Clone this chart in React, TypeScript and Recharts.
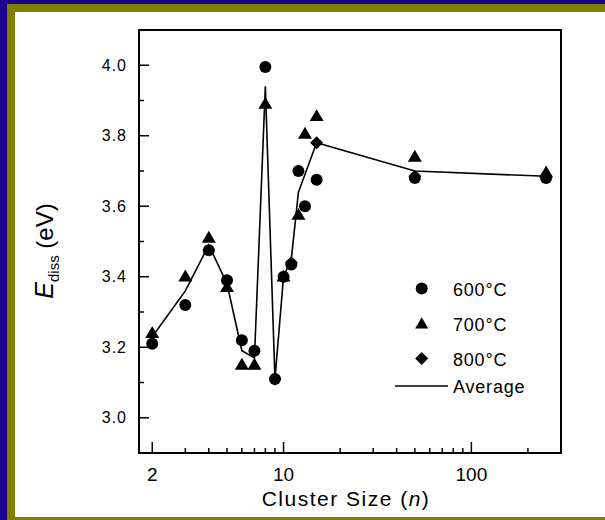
import React from "react";
import {
  ComposedChart,
  Line,
  Scatter,
  XAxis,
  YAxis,
  ReferenceArea,
} from "recharts";

// cluster size n and dissociation energy (eV) for each anneal temperature
const sizes600 = [2, 3, 4, 5, 6, 7, 8, 9, 10, 11, 12, 13, 15, 50, 250];
const energy600 = [3.21, 3.32, 3.475, 3.39, 3.22, 3.19, 3.995, 3.11, 3.4, 3.435, 3.7, 3.6, 3.675, 3.68, 3.68];

const sizes700 = [2, 3, 4, 5, 6, 7, 8, 10, 12, 13, 15, 50, 250];
const energy700 = [3.24, 3.4, 3.51, 3.37, 3.15, 3.15, 3.89, 3.4, 3.575, 3.805, 3.855, 3.74, 3.695];

const sizes800 = [9, 11, 15, 50, 250];
const energy800 = [3.11, 3.44, 3.78, 3.685, 3.685];

const sizesAvg = [2, 3, 4, 5, 6, 7, 8, 9, 10, 11, 12, 13, 15, 50, 250];
const energyAvg = [3.23, 3.36, 3.49, 3.38, 3.19, 3.17, 3.94, 3.11, 3.4, 3.45, 3.64, 3.69, 3.78, 3.7, 3.685];

const xTicks = [2, 3, 4, 5, 6, 7, 8, 9, 10, 20, 30, 40, 50, 60, 70, 80, 90, 100, 200];
const xLabels = [2, 10, 100];
const yTicks = [3.0, 3.1, 3.2, 3.3, 3.4, 3.5, 3.6, 3.7, 3.8, 3.9, 4.0];

const legendItems = ["600°C", "700°C", "800°C", "Average"];

const FONT = "'Liberation Sans', Arial, sans-serif";

const toPoints = (sizes: number[], values: number[]) =>
  sizes.map((n, i) => ({ n, e: values[i] }));

const pts600 = toPoints(sizes600, energy600);
const pts700 = toPoints(sizes700, energy700);
const pts800 = toPoints(sizes800, energy800);
const ptsAvg = toPoints(sizesAvg, energyAvg);

const Circle = ({ cx, cy, r = 6 }: any) => <circle cx={cx} cy={cy} r={r} fill="#000" />;

const Triangle = ({ cx, cy, s = 14 }: any) => {
  const h = s * 0.85;
  return (
    <polygon
      points={`${cx},${cy - h * 0.6} ${cx - s / 2},${cy + h * 0.4} ${cx + s / 2},${cy + h * 0.4}`}
      fill="#000"
    />
  );
};

const Diamond = ({ cx, cy, s = 13 }: any) => (
  <polygon
    points={`${cx},${cy - s / 2} ${cx + s / 2},${cy} ${cx},${cy + s / 2} ${cx - s / 2},${cy}`}
    fill="#000"
  />
);

function XTick({ x, y, payload }: any) {
  const v = payload.value;
  const major = xLabels.includes(v);
  return (
    <g>
      <line x1={x} x2={x} y1={y} y2={y - (major ? 11 : 5)} stroke="#000" strokeWidth={1.5} />
      {major && (
        <text x={x} y={y + 28} textAnchor="middle" fontSize={19} fontFamily={FONT} fill="#000">
          {v}
        </text>
      )}
    </g>
  );
}

function YTick({ x, y, payload }: any) {
  const v = payload.value;
  const major = Math.round(v * 10) % 2 === 0;
  return (
    <g>
      <line x1={x} x2={x + (major ? 10 : 5)} y1={y} y2={y} stroke="#000" strokeWidth={1.5} />
      {major && (
        <text
          x={x - 12}
          y={y + 5.5}
          textAnchor="end"
          fontSize={16}
          letterSpacing={1}
          fontFamily={FONT}
          fill="#000"
        >
          {v.toFixed(1)}
        </text>
      )}
    </g>
  );
}

export default function App() {
  return (
    <div style={{ position: "absolute", left: 0, top: 0, width: 605, height: 520, background: "#1c0090" }}>
      <div style={{ position: "absolute", left: 7, top: 4, width: 598, height: 516, background: "#808000" }} />
      <div style={{ position: "absolute", left: 15, top: 12, width: 590, height: 505, background: "#fff" }} />
      <div style={{ position: "absolute", left: 0, top: 0 }}>
        <ComposedChart width={605} height={520} margin={{ top: 30, right: 44, left: 0, bottom: 0 }}>
          <XAxis
            dataKey="n"
            type="number"
            scale="log"
            domain={[1.7, 300]}
            allowDataOverflow
            ticks={xTicks}
            interval={0}
            tick={<XTick />}
            tickSize={0}
            tickMargin={0}
            axisLine={false}
            height={67}
          />
          <YAxis
            dataKey="e"
            type="number"
            domain={[2.9, 4.1]}
            allowDataOverflow
            ticks={yTicks}
            interval={0}
            tick={<YTick />}
            tickSize={0}
            tickMargin={0}
            axisLine={false}
            width={139}
          />
          <ReferenceArea
            x1={1.7}
            x2={300}
            y1={2.9}
            y2={4.1}
            fill="none"
            fillOpacity={0}
            stroke="#000"
            strokeWidth={2}
            ifOverflow="visible"
          />
          <Line
            data={ptsAvg}
            dataKey="e"
            type="linear"
            stroke="#000"
            strokeWidth={1.6}
            dot={false}
            activeDot={false}
            isAnimationActive={false}
          />
          <Scatter data={pts600} dataKey="e" shape={(p: any) => <Circle cx={p.cx} cy={p.cy} />} isAnimationActive={false} />
          <Scatter data={pts700} dataKey="e" shape={(p: any) => <Triangle cx={p.cx} cy={p.cy} />} isAnimationActive={false} />
          <Scatter data={pts800} dataKey="e" shape={(p: any) => <Diamond cx={p.cx} cy={p.cy} />} isAnimationActive={false} />
        </ComposedChart>
      </div>
      <svg
        width={605}
        height={520}
        style={{ position: "absolute", left: 0, top: 0, pointerEvents: "none" }}
        fontFamily={FONT}
      >
        {/* legend */}
        <Circle cx={421.7} cy={288.5} r={6} />
        <Triangle cx={421.7} cy={324} s={13} />
        <Diamond cx={421.7} cy={358.5} s={13} />
        <line x1={395} x2={448} y1={386} y2={386} stroke="#000" strokeWidth={1.6} />
        {legendItems.map((t, i) => (
          <text
            key={t}
            x={453}
            y={[295.5, 330.5, 365.5, 392.5][i]}
            fontSize={18}
            letterSpacing={0.8}
            fill="#000"
          >
            {t}
          </text>
        ))}
        {/* axis titles */}
        <text
          x={346}
          y={506}
          textAnchor="middle"
          fontSize={21}
          letterSpacing={1.5}
          fill="#000"
        >
          Cluster Size (<tspan fontStyle="italic">n</tspan>)
        </text>
        <text
          transform="rotate(-90, 53, 251)"
          x={53}
          y={251}
          textAnchor="middle"
          fill="#000"
        >
          <tspan fontStyle="italic" fontSize={25}>E</tspan>
          <tspan fontSize={15} dy={6}>diss</tspan>
          <tspan fontSize={24} dy={-6}> (eV)</tspan>
        </text>
      </svg>
    </div>
  );
}
